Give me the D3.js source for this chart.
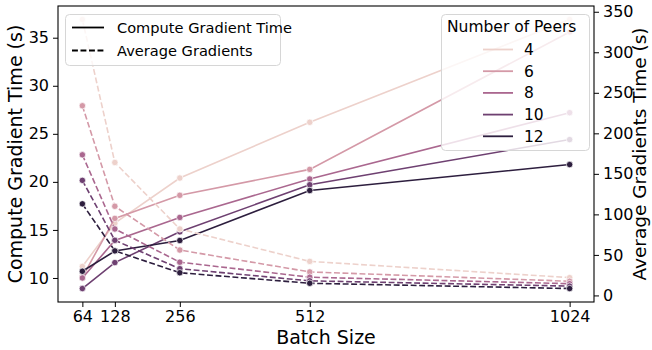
<!DOCTYPE html>
<html>
<head>
<meta charset="utf-8">
<script src="https://cdn.jsdelivr.net/npm/d3@7"></script>
<style>
  body { margin: 0; background: #fff; }
  svg text { font-family: "DejaVu Sans", sans-serif; fill: #000; }
</style>
</head>
<body>
<div id="chart"></div>
<script>
// DATA
let batchSizes = [64, 128, 256, 512, 1024];
let peers = [4, 6, 8, 10, 12];
let leftTicks = [10, 15, 20, 25, 30, 35];
let rightTicks = [0, 50, 100, 150, 200, 250, 300, 350];

// compute gradient time (s), one row per peer count
let computeTime = [
    [11.2, 15.7, 20.4, 26.2, 36.9],
    [10.1, 16.2, 18.6, 21.3, 35.6],
    [10.0, 13.9, 16.3, 20.3, 27.2],
    [8.9, 11.6, 14.8, 19.7, 24.4],
    [10.7, 12.8, 13.9, 19.1, 21.8]
];

// average gradients time (s), one row per peer count
let avgTime = [
    [340.5, 164, 82, 42, 22],
    [234, 110, 56, 29, 17.5],
    [173.5, 82, 41, 22.5, 14.5],
    [142, 68, 33, 18, 11.5],
    [113, 55, 28, 15, 8.5]
];

let width = 652,
    height = 350;
let margin = {top: 6, right: 58, bottom: 48, left: 58};
let x0 = margin.left, x1 = width - margin.right,
    y0 = margin.top, y1 = height - margin.bottom;

// seaborn default "ch:" cubehelix
function cubehelix(t) {
    let x = 0.85 + (0.15 - 0.85) * t;
    let a = 0.8 * x * (1 - x) / 2;
    let phi = 2 * Math.PI * (0.4 * x);
    let f = (p0, p1) => Math.max(0, Math.min(1, x + a * (p0 * Math.cos(phi) + p1 * Math.sin(phi))));
    return d3.rgb(f(-0.14861, 1.78277) * 255, f(-0.29227, -0.90649) * 255, f(1.97294, 0) * 255).formatHex();
}
let color = p => cubehelix((p - d3.min(peers)) / (d3.max(peers) - d3.min(peers)));

function padded(arr) {
    let lo = d3.min(arr), hi = d3.max(arr), pad = (hi - lo) * 0.05;
    return [lo - pad, hi + pad];
}

let xScale = d3.scaleLinear()
    .domain(padded(batchSizes))
    .range([x0, x1]);

let yLeft = d3.scaleLinear()
    .domain(padded(computeTime.flat()))
    .range([y1, y0]);

let yRight = d3.scaleLinear()
    .domain(padded(avgTime.flat()))
    .range([y1, y0]);

let svg = d3.select('#chart')
    .append('svg')
    .attr('width', width)
    .attr('height', height);

function drawSeries(rows, yScale, dashed) {
    rows.forEach((row, i) => {
        let pts = row.map((v, j) => [batchSizes[j], v]);
        let g = svg.append('g');
        g.append('path')
            .datum(pts)
            .attr('fill', 'none')
            .attr('stroke', color(peers[i]))
            .attr('stroke-width', 1.6)
            .attr('stroke-dasharray', dashed ? '5.9,2.6' : null)
            .attr('d', d3.line().x(d => xScale(d[0])).y(d => yScale(d[1])));
        g.selectAll('circle')
            .data(pts)
            .enter()
            .append('circle')
            .attr('cx', d => xScale(d[0]))
            .attr('cy', d => yScale(d[1]))
            .attr('r', 3.2)
            .attr('fill', color(peers[i]))
            .attr('stroke', '#fff')
            .attr('stroke-width', 0.7);
    });
}

drawSeries(computeTime, yLeft, false);
drawSeries(avgTime, yRight, true);

// axes
let axisFont = 16;
let xAxis = svg.append('g')
    .attr('transform', `translate(0,${y1})`)
    .call(d3.axisBottom(xScale).tickValues(batchSizes).tickFormat(d3.format('d')).tickSize(5).tickPadding(4));
let lAxis = svg.append('g')
    .attr('transform', `translate(${x0},0)`)
    .call(d3.axisLeft(yLeft).tickValues(leftTicks).tickSize(5).tickPadding(4));
let rAxis = svg.append('g')
    .attr('transform', `translate(${x1},0)`)
    .call(d3.axisRight(yRight).tickValues(rightTicks).tickSize(5).tickPadding(4));

[xAxis, lAxis, rAxis].forEach(a => {
    a.select('.domain').remove();
    a.selectAll('.tick line').attr('stroke', '#000').attr('stroke-width', 1);
    a.selectAll('.tick text').style('font-size', axisFont + 'px').style('font-family', '"DejaVu Sans"');
});

// frame
svg.append('rect')
    .attr('x', x0)
    .attr('y', y0)
    .attr('width', x1 - x0)
    .attr('height', y1 - y0)
    .attr('fill', 'none')
    .attr('stroke', '#000')
    .attr('stroke-width', 1.1);

// axis labels
svg.append('text')
    .attr('x', (x0 + x1) / 2)
    .attr('y', 344)
    .attr('text-anchor', 'middle')
    .style('font-size', '19px')
    .text('Batch Size');

svg.append('text')
    .attr('transform', `translate(22,${(y0 + y1) / 2}) rotate(-90)`)
    .attr('text-anchor', 'middle')
    .style('font-size', '19px')
    .text('Compute Gradient Time (s)');

svg.append('text')
    .attr('transform', `translate(646,${(y0 + y1) / 2}) rotate(-90)`)
    .attr('text-anchor', 'middle')
    .style('font-size', '18.5px')
    .text('Average Gradients Time (s)');

// legend: line styles
let styleNames = ['Compute Gradient Time', 'Average Gradients'];
let leg1 = svg.append('g');
leg1.append('rect')
    .attr('x', 65.5).attr('y', 14.5)
    .attr('width', 215).attr('height', 51)
    .attr('rx', 4)
    .attr('fill', '#fff').attr('fill-opacity', 0.8)
    .attr('stroke', '#d6d6d6');
styleNames.forEach((name, i) => {
    let cy = 27.5 + i * 23;
    leg1.append('line')
        .attr('x1', 72).attr('x2', 104)
        .attr('y1', cy).attr('y2', cy)
        .attr('stroke', '#000').attr('stroke-width', 1.8)
        .attr('stroke-dasharray', i === 1 ? '5.9,2.6' : null);
    leg1.append('text')
        .attr('x', 117).attr('y', cy)
        .attr('dy', '0.36em')
        .style('font-size', '14.6px')
        .text(name);
});

// legend: peers
let leg2 = svg.append('g');
leg2.append('rect')
    .attr('x', 441.5).attr('y', 14.5)
    .attr('width', 148).attr('height', 136)
    .attr('rx', 4)
    .attr('fill', '#fff').attr('fill-opacity', 0.8)
    .attr('stroke', '#d6d6d6');
leg2.append('text')
    .attr('x', 447).attr('y', 26)
    .attr('dy', '0.36em')
    .style('font-size', '15.5px')
    .text('Number of Peers');
peers.forEach((p, i) => {
    let cy = 49.5 + i * 21.7;
    leg2.append('line')
        .attr('x1', 483).attr('x2', 513)
        .attr('y1', cy).attr('y2', cy)
        .attr('stroke', color(p)).attr('stroke-width', 1.8);
    leg2.append('text')
        .attr('x', 524).attr('y', cy)
        .attr('dy', '0.36em')
        .style('font-size', '15.5px')
        .text(p);
});
</script>
</body>
</html>
